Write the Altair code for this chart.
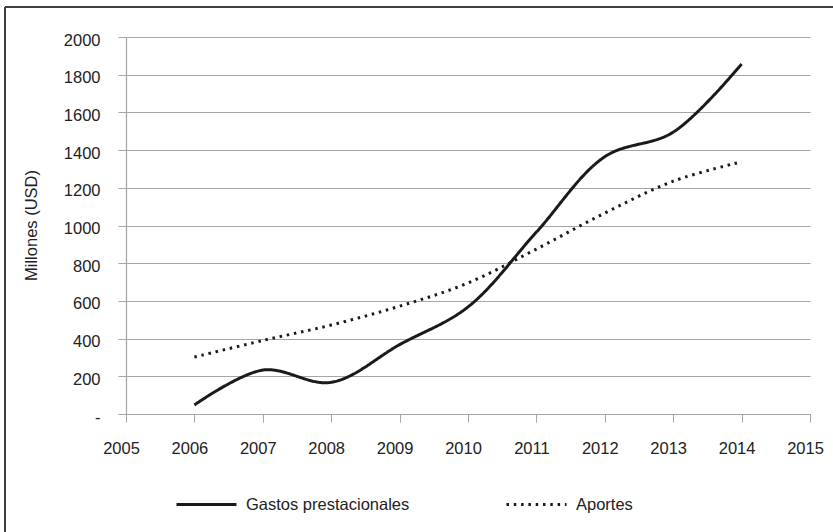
import altair as alt
import pandas as pd

years = [2006, 2007, 2008, 2009, 2010, 2011, 2012, 2013, 2014]
gastos = [48, 233, 168, 368, 568, 965, 1365, 1495, 1857]
aportes = [302, 390, 472, 572, 695, 875, 1066, 1235, 1338]
series_names = ["Gastos prestacionales", "Aportes"]
x_ticks = list(range(2005, 2016))
y_ticks = list(range(0, 2001, 200))

rows = []
for name, vals in zip(series_names, [gastos, aportes]):
    for y, v in zip(years, vals):
        rows.append({"year": y, "value": v, "serie": name})
df = pd.DataFrame(rows)

FONT = "Liberation Sans"
FS = 16.5
TXT = "#222222"
GRID = "#a6a6a6"

lines = alt.Chart(df).mark_line(interpolate="catmull-rom", strokeWidth=3, color="#1a1a1a").encode(
    x=alt.X("year:Q", scale=alt.Scale(domain=[2005, 2015], nice=False),
            axis=alt.Axis(values=x_ticks, format="d", grid=False, tickSize=8,
                          labelPadding=18, labelOffset=-5, labelFlush=False,
                          labelOverlap=False, title=None)),
    y=alt.Y("value:Q", scale=alt.Scale(domain=[0, 2000], nice=False),
            axis=alt.Axis(values=y_ticks, format="d", grid=True, tickSize=8,
                          labelPadding=18, labelOffset=3, labelBaseline="middle",
                          labelFlush=False, labelOverlap=False,
                          labelExpr="datum.value == 0 ? '-' : datum.label",
                          title="Millones (USD)", titleX=-95, titleY=188,
                          titleBaseline="middle", titleFontWeight="normal")),
    strokeDash=alt.StrokeDash("serie:N",
        scale=alt.Scale(domain=series_names, range=[[1, 0], [2.5, 4.8]]),
        legend=alt.Legend(orient="none", legendX=49, legendY=436, direction="horizontal",
                          title=None, symbolType="stroke", symbolSize=3600,
                          symbolStrokeWidth=3, symbolStrokeColor="#1a1a1a",
                          labelOffset=8, columnPadding=90, labelLimit=400)),
    detail="serie:N",
)

border_top = alt.Chart(pd.DataFrame({"k": [0]})).mark_rule(color="#404040", strokeWidth=2).encode(
    x=alt.value(-121), x2=alt.value(720), y=alt.value(-30))
border_left = alt.Chart(pd.DataFrame({"k": [0]})).mark_rule(color="#404040", strokeWidth=2).encode(
    x=alt.value(-121), y=alt.value(-30), y2=alt.value(500))

chart = alt.layer(lines, border_top, border_left).properties(
    width=684, height=377,
    autosize=alt.AutoSizeParams(type="none"),
    padding={"left": 126, "top": 37, "right": 23, "bottom": 118},
    background="white",
).configure_view(stroke=None).configure_axis(
    gridColor=GRID, domainColor=GRID, tickColor=GRID, gridWidth=1.2, domainWidth=1.2,
    labelFont=FONT, labelFontSize=FS, labelColor=TXT,
    titleFont=FONT, titleFontSize=FS, titleColor=TXT,
).configure_legend(labelFont=FONT, labelFontSize=FS, labelColor=TXT)

chart.save("out.html", embed_options={"renderer": "svg", "actions": False})
